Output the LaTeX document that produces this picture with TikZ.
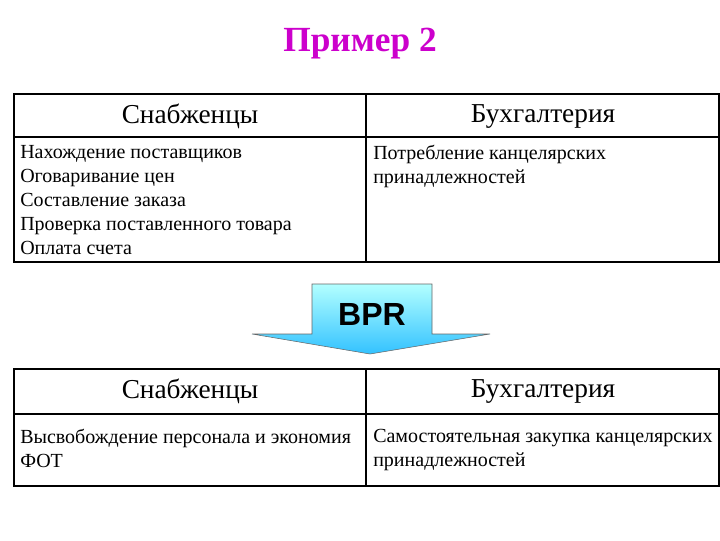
\documentclass[tikz,border=0pt]{standalone}
\usepackage{fontspec}
\setmainfont{Liberation Serif}
\newfontfamily\arialf{Liberation Sans}
\definecolor{ttl}{RGB}{204,0,204}
\begin{document}
\begin{tikzpicture}[x=0.75pt,y=-0.75pt,
  cell/.style={draw=black,line width=0.8pt},
  head/.style={font=\fontsize{20.5}{24}\selectfont},
  body/.style={font=\fontsize{15}{18}\selectfont,align=left,anchor=north west,inner sep=0pt}]
\useasboundingbox (0,0) rectangle (720,540);
\node[font=\fontsize{26.5}{30}\selectfont\bfseries,text=ttl] (title) at (360,44) {Пример 2};
% top table
\draw[cell] (14,94) rectangle (719,262);
\draw[cell] (14,137) -- (719,137);
\draw[cell] (366,94) -- (366,262);
\node[head] (h1) at (190,116) {Снабженцы};
\node[head] (h2) at (543,116) {Бухгалтерия};
\node[body] (b1) at (20,145) {Нахождение поставщиков\\Оговаривание цен\\Составление заказа\\Проверка поставленного товара\\Оплата счета};
\node[body] (b2) at (373,145) {Потребление канцелярских\\принадлежностей};
% arrow
\shade[top color=cyan!30!white,bottom color=cyan!70!blue!80,draw=black!60]
  (312,284) -- (432,284) -- (432,334) -- (490,334) -- (370,354) -- (252,334) -- (312,334) -- cycle;
\node[font=\arialf\fontsize{24}{26}\selectfont\bfseries] (bpr) at (372,314) {BPR};
% bottom table
\draw[cell] (14,369) rectangle (719,486);
\draw[cell] (14,414) -- (719,414);
\draw[cell] (366,369) -- (366,486);
\node[head] (h3) at (190,391) {Снабженцы};
\node[head] (h4) at (543,391) {Бухгалтерия};
\node[body] (b3) at (20,429) {Высвобождение персонала и экономия\\ФОТ};
\node[body] (b4) at (373,429) {Самостоятельная закупка канцелярских\\принадлежностей};
\end{tikzpicture}
\end{document}
